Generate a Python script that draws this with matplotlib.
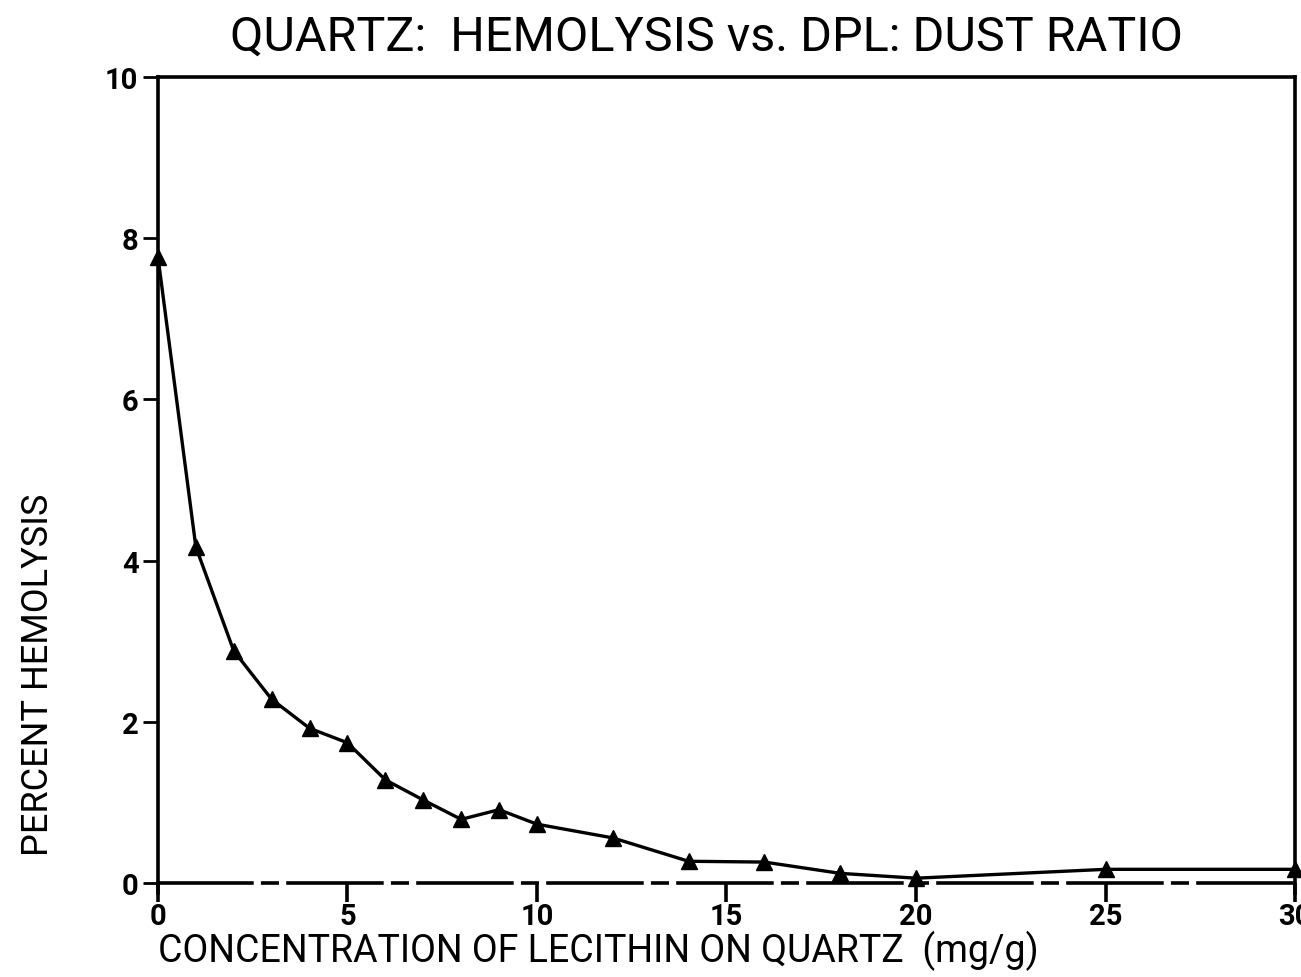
import matplotlib
matplotlib.use("Agg")
import matplotlib.pyplot as plt

# lecithin concentration on quartz (mg/g) vs percent hemolysis
conc = [0, 1, 2, 3, 4, 5, 6, 7, 8, 9, 10, 12, 14, 16, 18, 20, 25, 30]
hemolysis = [7.77, 4.17, 2.88, 2.28, 1.92, 1.74, 1.28, 1.03, 0.79, 0.91,
             0.73, 0.56, 0.27, 0.26, 0.12, 0.06, 0.17, 0.17]
xticks = [0, 5, 10, 15, 20, 25, 30]
yticks = [0, 2, 4, 6, 8, 10]

plt.rcParams["font.family"] = ["Roboto", "DejaVu Sans"]

fig = plt.figure(figsize=(13.01, 9.78), dpi=100)
ax = fig.add_axes([0.1214, 0.0862, 0.874, 0.834])

ax.plot(conc, hemolysis, color="black", lw=2.4, marker="^", ms=11,
        markeredgecolor="black", clip_on=False, zorder=3)

ax.set_xlim(0, 30)
ax.set_ylim(-0.12, 10)
ax.spines["bottom"].set_position(("data", 0))
ax.spines["bottom"].set_linestyle((0, (26, 3, 4, 3)))
for s in ("left", "right", "top", "bottom"):
    ax.spines[s].set_linewidth(2.6)

ax.set_xticks(xticks)
ax.set_yticks(yticks)
ax.tick_params(axis="x", direction="out", length=14, width=2.6, pad=0,
               labelsize=21)
ax.tick_params(axis="y", direction="out", length=11, width=2, pad=3,
               labelsize=21)
for lab in ax.get_xticklabels() + ax.get_yticklabels():
    lab.set_fontweight("bold")

fig.text(0.543, 0.962, "QUARTZ:  HEMOLYSIS vs. DPL: DUST RATIO",
         ha="center", va="center", fontsize=35)
fig.text(0.1214, 0.016, "CONCENTRATION OF LECITHIN ON QUARTZ  (mg/g)",
         ha="left", va="baseline", fontsize=27)
fig.text(0.029, 0.31, "PERCENT HEMOLYSIS", rotation=90,
         ha="center", va="center", fontsize=26)

fig.savefig("out.png", dpi=100)
